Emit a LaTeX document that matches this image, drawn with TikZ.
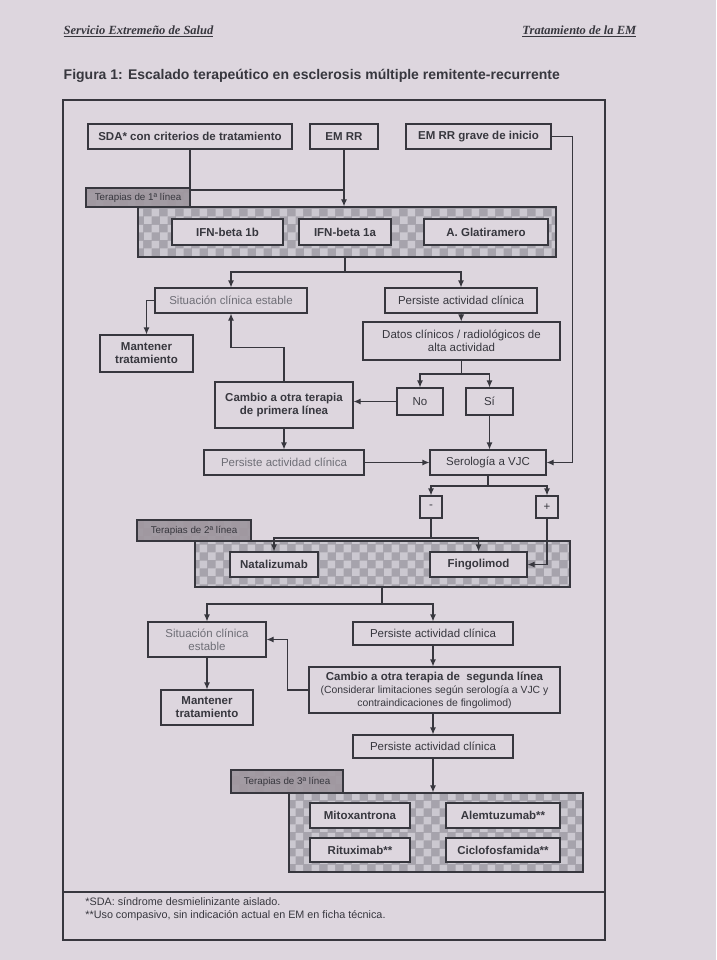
\documentclass[tikz,border=0pt]{standalone}
\usepackage{fontspec}
\setmainfont{Liberation Sans}
\newfontfamily\headfont{Liberation Serif}
\usetikzlibrary{positioning, arrows.meta, patterns, calc}

\definecolor{paper}{RGB}{221,214,222}
\definecolor{ink}{RGB}{55,55,62}
\definecolor{softink}{RGB}{110,110,118}
\definecolor{chkdark}{RGB}{166,163,172}
\definecolor{chklight}{RGB}{203,200,208}
\definecolor{tabgray}{RGB}{160,152,160}

\pgfdeclarepatternformonly{chequer}{\pgfpointorigin}{\pgfqpoint{16pt}{16pt}}{\pgfqpoint{16pt}{16pt}}{%
  \pgfpathrectangle{\pgfpointorigin}{\pgfqpoint{8pt}{8pt}}%
  \pgfpathrectangle{\pgfqpoint{8pt}{8pt}}{\pgfqpoint{8pt}{8pt}}%
  \pgfusepath{fill}}

\begin{document}
\begin{tikzpicture}[x=1pt, y=-1pt, thick, text=ink,
						box/.style={draw=ink, line width=1.1pt, fill=paper, rectangle, align=center, inner sep=2pt, font=\fontsize{11.5}{13}\selectfont},
						bbox/.style={box, font=\bfseries\fontsize{11.5}{13}\selectfont},
						pale/.style={box, text=softink},
						panel/.style={draw=ink, line width=1.3pt, preaction={fill=chkdark}, pattern=chequer, pattern color=chklight, inner sep=0pt},
						tab/.style={draw=ink, line width=1.1pt, preaction={fill=tabgray}, pattern=chequer, pattern color=tabgray!75!chkdark, text=ink, font=\fontsize{9.8}{11}\selectfont, inner sep=0pt},
						link/.style={draw=ink, line width=1.1pt},
						arrow/.style={link, -{Latex[length=7pt, width=6pt]}}]

	\fill[paper] (0,0) rectangle (716,960);
	\useasboundingbox (0,0) rectangle (716,960);

	\node[anchor=west, font=\headfont\bfseries\itshape\fontsize{12.5}{14}\selectfont] (cabizq) at (60,31) {\underline{Servicio Extremeño de Salud}};
	\node[anchor=east, font=\headfont\bfseries\itshape\fontsize{12.5}{14}\selectfont] (cabder) at (640,31) {\underline{Tratamiento de la EM}};
	\node[anchor=west, font=\bfseries\fontsize{14}{16}\selectfont] (titulo) at (60,76) {Figura 1: Escalado terapeútico en esclerosis múltiple remitente-recurrente};

	\draw[ink, line width=1.2pt] (63,100) rectangle (605,940);
	\draw[ink, line width=1.2pt] (63,892) -- (605,892);

	\node[bbox, minimum width=204, minimum height=25] (sda) at (190,136.5) {SDA* con criterios de tratamiento};
	\node[bbox, minimum width=68, minimum height=25] (emrr) at (344,136.5) {EM RR};
	\node[bbox, minimum width=145, minimum height=25] (grave) at (478.5,136.5) {EM RR grave de inicio};

	\node[tab, minimum width=104, minimum height=19] (tabuno) at (138,197.5) {Terapias de 1ª línea};
	\node[panel, minimum width=418, minimum height=50] (lineauno) at (347,232) {};
	\node[bbox, minimum width=111, minimum height=26] (ifnb) at (227.5,232) {IFN-beta 1b};
	\node[bbox, minimum width=92, minimum height=26] (ifna) at (345,232) {IFN-beta 1a};
	\node[bbox, minimum width=124, minimum height=26] (glat) at (486,232) {A. Glatiramero};

	\node[pale, minimum width=152, minimum height=25] (estableuno) at (231,300.5) {Situación clínica estable};
	\node[box, minimum width=152, minimum height=25] (persisteuno) at (461,300.5) {Persiste actividad clínica};
	\node[bbox, minimum width=93, minimum height=37] (mantuno) at (146.5,353.5) {Mantener\\tratamiento};
	\node[box, minimum width=197, minimum height=38] (datos) at (461.5,341) {Datos clínicos / radiológicos de\\alta actividad};
	\node[box, minimum width=46, minimum height=27] (no) at (420,401.5) {No};
	\node[box, minimum width=47, minimum height=27] (si) at (489.5,401.5) {Sí};
	\node[bbox, minimum width=138, minimum height=46] (cambiouno) at (284,405) {Cambio a otra terapia\\de primera línea};
	\node[pale, minimum width=160, minimum height=25] (persistedos) at (284,462.5) {Persiste actividad clínica};
	\node[box, minimum width=116, minimum height=25] (serologia) at (488,462.5) {Serología a VJC};
	\node[box, minimum width=22, minimum height=22] (neg) at (431,507) {-};
	\node[box, minimum width=22, minimum height=22] (pos) at (547,507) {+};

	\node[tab, minimum width=114, minimum height=21] (tabdos) at (194,530.5) {Terapias de 2ª línea};
	\node[panel, minimum width=375, minimum height=46] (lineados) at (382.5,564) {};
	\node[bbox, minimum width=88, minimum height=25] (natal) at (274,564.5) {Natalizumab};
	\node[bbox, minimum width=97, minimum height=25] (fingo) at (478.5,564.5) {Fingolimod};

	\node[pale, minimum width=118, minimum height=35] (establedos) at (207,639.5) {Situación clínica\\estable};
	\node[box, minimum width=160, minimum height=23] (persistetres) at (433,633.5) {Persiste actividad clínica};
	\node[bbox, minimum width=92, minimum height=35] (mantdos) at (207,707.5) {Mantener\\tratamiento};
	\node[box, minimum width=251, minimum height=46, inner sep=1pt] (cambiodos) at (434.5,690) {\textbf{Cambio a otra terapia de \ segunda línea}\\{\fontsize{10.4}{11.5}\selectfont (Considerar limitaciones según serología a VJC y}\\{\fontsize{10.4}{11.5}\selectfont contraindicaciones de fingolimod)}};
	\node[box, minimum width=160, minimum height=23] (persistecuatro) at (433,746.5) {Persiste actividad clínica};

	\node[tab, minimum width=112, minimum height=23] (tabtres) at (287,781.5) {Terapias de 3ª línea};
	\node[panel, minimum width=294, minimum height=79] (lineatres) at (436,832.5) {};
	\node[bbox, minimum width=100, minimum height=25] (mitox) at (360,815.5) {Mitoxantrona};
	\node[bbox, minimum width=114, minimum height=25] (alem) at (503,815.5) {Alemtuzumab**};
	\node[bbox, minimum width=100, minimum height=24] (ritux) at (360,850) {Rituximab**};
	\node[bbox, minimum width=114, minimum height=24] (ciclo) at (503,850) {Ciclofosfamida**};

	\node[anchor=north west, align=left, inner sep=0pt, font=\fontsize{10.8}{13}\selectfont] (notas) at (85,897) {*SDA: síndrome desmielinizante aislado.\\**Uso compasivo, sin indicación actual en EM en ficha técnica.};

	\coordinate (juntauno) at (emrr.south |- 0,190);
	\coordinate (partauno) at (345,272);
	\coordinate (partados) at (datos.south |- 0,374);
	\coordinate (partatres) at (serologia.south |- 0,486);
	\coordinate (partacuatro) at (neg.south |- 0,538);
	\coordinate (partacinco) at (382,604);

	\draw[link] (sda.south) |- (juntauno);
	\draw[arrow] (emrr.south) -- (emrr.south |- lineauno.north);
	\draw[arrow] (grave.east) -- ++(21,0) |- (serologia.east);

	\draw[link] (lineauno.south -| partauno) -- (partauno);
	\draw[arrow] (partauno) -| (estableuno.north);
	\draw[arrow] (partauno) -| (persisteuno.north);
	\draw[arrow] (estableuno.west) -| (mantuno.north);
	\draw[arrow] (persisteuno) -- (datos);
	\draw[link] (datos.south) -- (partados);
	\draw[arrow] (partados) -| (no.north);
	\draw[arrow] (partados) -| (si.north);
	\draw[arrow] (no.west) -- (no.west -| cambiouno.east);
	\draw[arrow] (cambiouno.north) -- ++(0,-34) -| (estableuno.south);
	\draw[arrow] (cambiouno.south) -- (cambiouno.south |- persistedos.north);
	\draw[arrow] (persistedos) -- (serologia);
	\draw[arrow] (si.south) -- (si.south |- serologia.north);

	\draw[link] (serologia.south) -- (partatres);
	\draw[arrow] (partatres) -| (neg.north);
	\draw[arrow] (partatres) -| (pos.north);
	\draw[link] (neg.south) -- (partacuatro);
	\draw[arrow] (partacuatro) -| (natal.north);
	\draw[arrow] (partacuatro) -| (fingo.north);
	\draw[arrow] (pos.south) |- (fingo.east);

	\draw[link] (lineados.south -| partacinco) -- (partacinco);
	\draw[arrow] (partacinco) -| (establedos.north);
	\draw[arrow] (partacinco) -| (persistetres.north);
	\draw[arrow] (establedos) -- (mantdos);
	\draw[arrow] (persistetres.south) -- (persistetres.south |- cambiodos.north);
	\draw[arrow] (cambiodos.west) -- ++(-21,0) |- (establedos.east);
	\draw[arrow] (cambiodos.south -| persistecuatro) -- (persistecuatro.north);
	\draw[arrow] (persistecuatro.south) -- (persistecuatro.south |- lineatres.north);
\end{tikzpicture}
\end{document}
